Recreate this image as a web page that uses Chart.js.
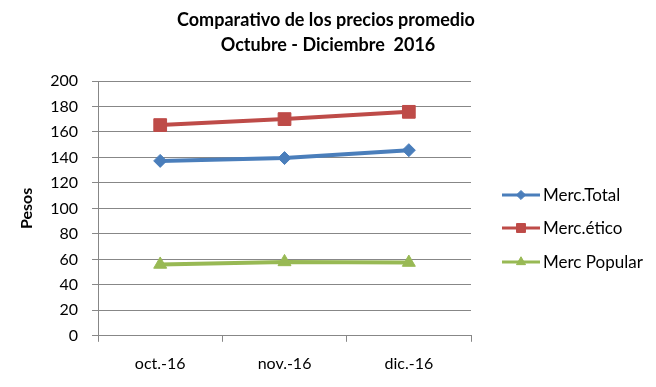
<!DOCTYPE html>
<html>
<head>
<meta charset="utf-8">
<script src="https://cdn.jsdelivr.net/npm/chart.js@4/dist/chart.umd.min.js"></script>
<style>
  html, body { margin: 0; padding: 0; background: #fff; }
  #wrap { width: 656px; height: 387px; position: relative; }
</style>
</head>
<body>
<div id="wrap"><canvas id="chart"></canvas></div>
<script>
const months = ['oct.-16', 'nov.-16', 'dic.-16'];
const mercTotal = [137.3, 139.5, 145.7];
const mercEtico = [165.4, 170.1, 175.8];
const mercPopular = [56, 58, 57.5];

const seriesNames = ['Merc.Total', 'Merc.ético', 'Merc Popular'];
const seriesColors = ['#4A7EBB', '#BE4B48', '#98B954'];
const seriesMarkers = ['rectRot', 'rect', 'triangle'];
const markerSizes = [6.5, 9, 7.5];
const titleLines = ['Comparativo de los precios promedio', 'Octubre - Diciembre  2016'];

const fontFamily = 'Lato, "Open Sans", sans-serif';
const gridColor = '#878787';

// title centred on the whole picture, legend on the right with line + marker
const sideLegend = {
  id: 'sideLegend',
  afterDraw(chart) {
    const ctx = chart.ctx;
    ctx.save();
    ctx.fillStyle = '#000';
    ctx.textAlign = 'center';
    ctx.textBaseline = 'middle';
    ctx.font = 'bold 18px ' + fontFamily;
    ctx.fillText(titleLines[0], 326, 20);
    ctx.fillText(titleLines[1], 328, 45);

    const rows = [195, 228, 262];
    chart.data.datasets.forEach((ds, i) => {
      const y = rows[i];
      ctx.strokeStyle = ds.borderColor;
      ctx.lineWidth = 3;
      ctx.beginPath();
      ctx.moveTo(502, y);
      ctx.lineTo(540, y);
      ctx.stroke();
      ctx.fillStyle = ds.borderColor;
      ctx.lineWidth = 1;
      Chart.helpers.drawPoint(ctx, {
        pointStyle: ds.pointStyle,
        radius: ds.pointRadius * 0.7,
        borderWidth: 1,
      }, 521, y);
      ctx.fillStyle = '#000';
      ctx.font = '17px ' + fontFamily;
      ctx.textAlign = 'left';
      ctx.fillText(ds.label, 543, y + 1);
    });
    ctx.restore();
  },
};

const values = [mercTotal, mercEtico, mercPopular];

new Chart(document.getElementById('chart'), {
  type: 'line',
  data: {
    labels: months,
    datasets: values.map((data, i) => ({
      label: seriesNames[i],
      data,
      borderColor: seriesColors[i],
      backgroundColor: seriesColors[i],
      borderWidth: 4,
      pointStyle: seriesMarkers[i],
      pointRadius: markerSizes[i],
      pointHoverRadius: markerSizes[i],
      pointBorderWidth: 1,
      tension: 0,
    })),
  },
  options: {
    responsive: true,
    maintainAspectRatio: false,
    animation: false,
    layout: { padding: { top: 81, right: 185, bottom: 2, left: 17 } },
    plugins: {
      legend: { display: false },
      tooltip: { enabled: false },
      title: { display: false },
    },
    scales: {
      x: {
        offset: true,
        grid: {
          offset: true,
          drawOnChartArea: false,
          drawTicks: true,
          tickLength: 6,
          color: gridColor,
        },
        border: { color: gridColor, width: 1 },
        ticks: { color: '#000', padding: 12, font: { family: fontFamily, size: 16 } },
      },
      y: {
        min: 0,
        max: 200,
        ticks: { stepSize: 20, color: '#000', padding: 14, font: { family: fontFamily, size: 16 } },
        grid: { color: gridColor, tickLength: 6 },
        border: { color: gridColor, width: 1 },
        title: {
          display: true,
          text: 'Pesos',
          color: '#000',
          font: { family: fontFamily, size: 16, weight: 'bold' },
          padding: { top: 0, bottom: 0 },
        },
      },
    },
  },
  plugins: [sideLegend],
});
</script>
</body>
</html>
